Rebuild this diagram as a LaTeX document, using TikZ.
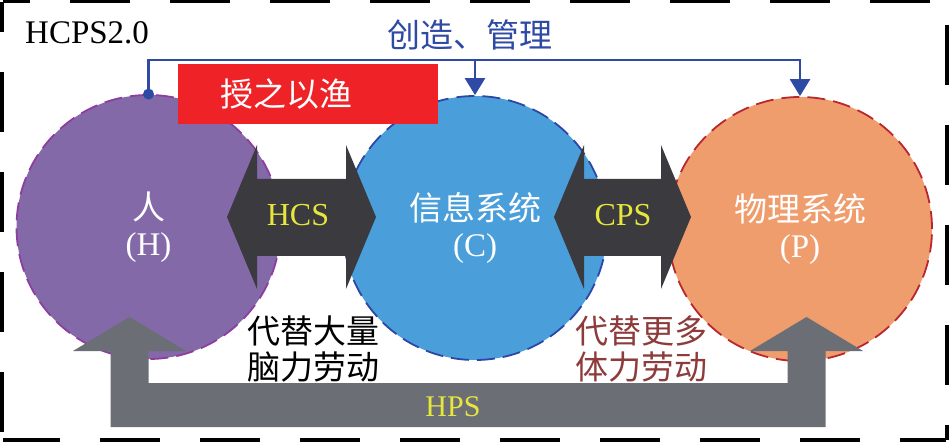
\documentclass[tikz,border=0pt]{standalone}
\usepackage{fontspec}
\setmainfont{Liberation Serif}
\newfontfamily\cjk{Noto Sans CJK SC}
\usetikzlibrary{arrows.meta}
\definecolor{hpurple}{HTML}{8369A8}
\definecolor{hpurpleline}{HTML}{8E3CA0}
\definecolor{cblue}{HTML}{4A9FDB}
\definecolor{cblueline}{HTML}{2C47A5}
\definecolor{porange}{HTML}{EF9D6D}
\definecolor{porangeline}{HTML}{B8282E}
\definecolor{darkarrow}{HTML}{3A3A3F}
\definecolor{grayarrow}{HTML}{6B6E75}
\definecolor{ylw}{HTML}{E6E63C}
\definecolor{mgblue}{HTML}{2F4AA5}
\definecolor{redbox}{HTML}{EE2227}
\definecolor{brownred}{HTML}{8E3B3B}
\begin{document}
\begin{tikzpicture}[x=1pt,y=-1pt,
  border/.style={line width=4pt,dash pattern=on 60pt off 40pt},
  circ/.style={circle,minimum size=264pt,inner sep=0pt,line width=1.8pt,
    dash pattern=on 18pt off 8pt,align=center,text=white,
    font=\fontsize{33}{36}\selectfont},
  biglbl/.style={font=\fontsize{32}{36}\selectfont,text=ylw,inner sep=0pt},
  cjktxt/.style={font=\fontsize{33}{36}\selectfont\cjk,inner sep=0pt},
  mgline/.style={draw=mgblue,line width=2.6pt},
  mgarrow/.style={mgline,-{Triangle[width=20pt,length=17pt]}}
]
\useasboundingbox (0,0) rectangle (949,443);
% outer dashed frame
\draw[border,dash phase=33pt] (3,1.5) -- (946,1.5);
\draw[border,dash phase=30pt] (2,2) -- (2,440);
\draw[border,dash phase=77pt] (947,2) -- (947,440);
\draw[border,dash phase=3pt] (3,439.5) -- (946,439.5);

\node[anchor=base west,inner sep=0pt,font=\fontsize{33}{36}\selectfont] (title) at (25,44) {HCPS2.0};

% circles
\node[circ,fill=hpurple,draw=hpurpleline] (H) at (148.5,227) {{\cjk 人}\\(H)};
\node[circ,fill=cblue,draw=cblueline] (C) at (475,228) {{\cjk 信息系统}\\(C)};
\node[circ,fill=porange,draw=porangeline] (P) at (800,229) {{\cjk 物理系统}\\(P)};

% HCS / CPS double arrows
\fill[darkarrow] (227,217) -- (257,145) -- (257,179) -- (346,179) -- (346,145) -- (376,217)
  -- (346,289) -- (346,256) -- (257,256) -- (257,289) -- cycle;
\node[biglbl] (hcs) at (298,215) {HCS};
\fill[darkarrow] (554,217) -- (584,145) -- (584,179) -- (661,179) -- (661,145) -- (691,217)
  -- (661,289) -- (661,256) -- (584,256) -- (584,289) -- cycle;
\node[biglbl] (cps) at (623,215) {CPS};

% HPS U arrow
\fill[grayarrow] (110.5,427) -- (110.5,351) -- (73,351) -- (129.5,317) -- (186,351) -- (148.5,351)
  -- (148.5,383) -- (787.5,383) -- (787.5,351) -- (750,351) -- (806.5,317) -- (863,351)
  -- (825.5,351) -- (825.5,427) -- cycle;
\node[biglbl,font=\fontsize{30}{36}\selectfont] (hps) at (453,407) {HPS};

% texts below
\node[cjktxt,anchor=west,align=left] (brain) at (247,349) {代替大量\\脑力劳动};
\node[cjktxt,anchor=west,align=left,text=brownred] (body) at (575,349) {代替更多\\体力劳动};

% top connector
\coordinate (bar) at (148.5,60);
\node[cjktxt,text=mgblue] (create) at (470,35) {创造、管理};
\draw[mgarrow] (H.north) |- (P.north |- bar) -- (P.north);
\draw[mgarrow] (C.north |- bar) -- (C.north);
\fill[mgblue] (H.north) circle (5.5pt);

% red box
\node[fill=redbox,minimum height=60pt,text width=176pt,inner xsep=42pt,inner ysep=0pt,
  align=left,text=white,font=\fontsize{33}{36}\selectfont\cjk] (fish) at (308,94) {授之以渔};
\end{tikzpicture}
\end{document}
